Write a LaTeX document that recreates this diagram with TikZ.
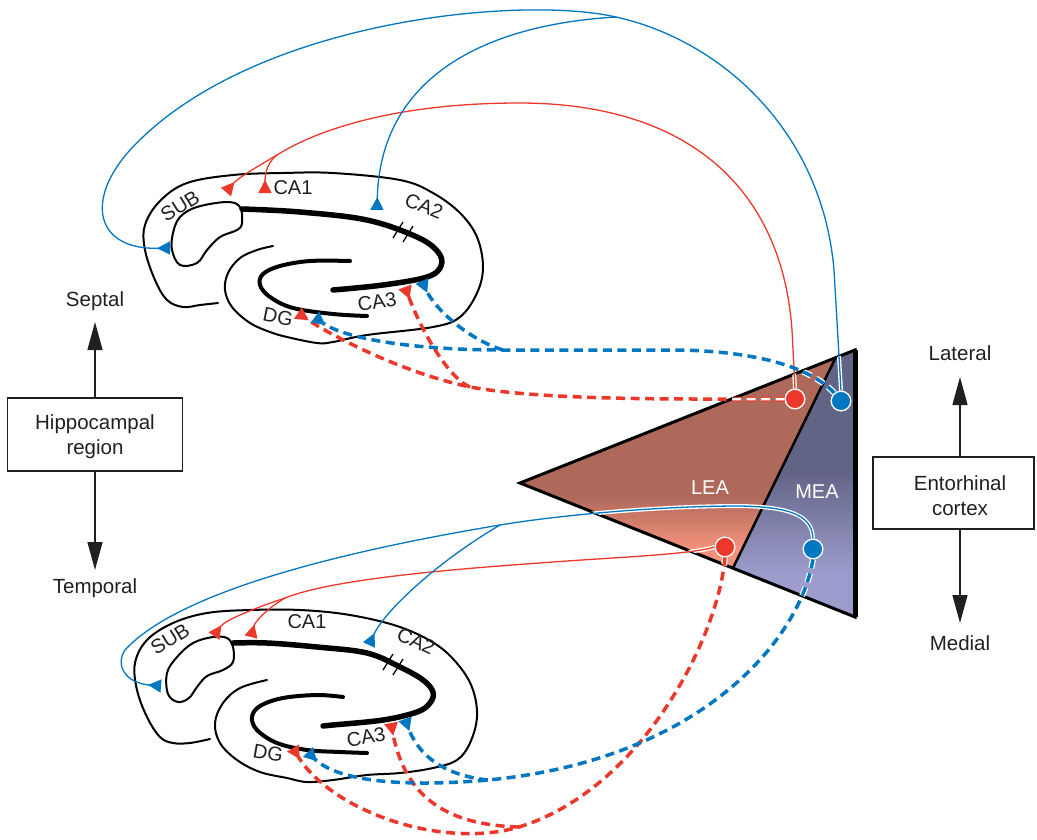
\documentclass[tikz,border=0pt]{standalone}
\usepackage{fontspec}
\setmainfont{Liberation Sans}
\usetikzlibrary{arrows.meta}

\definecolor{cred}{RGB}{236,56,42}
\definecolor{cblue}{RGB}{0,119,192}
\definecolor{leatop}{RGB}{175,105,91}
\definecolor{leabot}{RGB}{245,146,124}
\definecolor{meatop}{RGB}{98,100,134}
\definecolor{meabot}{RGB}{157,157,205}
\definecolor{ink}{RGB}{35,31,32}

% projection paths that are redrawn with a casing inside the cortex
\newcommand\RedTopDash[1]{\draw[#1] (RT.west) -- (rt1) .. controls (600,399) and (520,396) .. (mRT) .. controls (400,372) and (330,335) .. (rDGt);}
\newcommand\BlueTopDash[1]{\draw[#1] (BT.130) .. controls (815,372) and (770,352) .. (bt1) -- (mBT) .. controls (420,350) and (345,340) .. (bDGt);}
\newcommand\RedTopAxon[1]{\draw[#1] (RT.north) -- (rt2) .. controls (782,190) and (690,103) .. (rtop) .. controls (400,103) and (320,128) .. (brRT);}
\newcommand\BlueTopAxon[1]{\draw[#1] (BT.north) -- (bt2) .. controls (822,130) and (720,40) .. (bmerge);}
\newcommand\RedLowAxon[1]{\draw[#1] (RB.west) .. controls (690,555) and (600,558) .. (rl1) .. controls (440,570) and (330,580) .. (brRB);}
\newcommand\BlueLowAxon[1]{\draw[#1] (BB.north) .. controls (812,515) and (790,507) .. (bl1) .. controls (660,506) and (560,515) .. (bmergeL);}
\newcommand\RedLowDash[1]{\draw[#1] (RB.south) .. controls (718,640) and (640,790) .. (mRL) .. controls (440,850) and (330,810) .. (rDGl);}
\newcommand\BlueLowDash[1]{\draw[#1] (BB.south) .. controls (800,640) and (700,760) .. (mBL) .. controls (420,786) and (340,785) .. (bDGl);}

\tikzset{
  contour/.style={draw=black, line width=2pt, line cap=round, line join=round},
  cellline/.style={draw=black, line width=5.5pt, line cap=round},
  dgline/.style={draw=black, line width=4pt, line cap=round},
  tick/.style={draw=black, line width=1.3pt},
  axon/.style={line width=1.3pt},
  axondash/.style={line width=3.5pt, dash pattern=on 9pt off 5.5pt},
  term/.style={-{Triangle[reversed,length=13pt,width=13pt]}},
  soma/.style={circle, draw=white, line width=1.2pt, minimum size=19.5pt, inner sep=0pt},
  region/.style={font=\fontsize{20}{24}\selectfont, text=ink, inner sep=0pt},
  axislbl/.style={font=\fontsize{20.5}{25}\selectfont, text=ink, align=center, inner sep=0pt},
  boxnode/.style={draw=ink, line width=1.2pt, rectangle, inner sep=0pt},
  axisarrow/.style={draw=ink, line width=1.3pt, -{Triangle[length=28pt,width=15pt]}},
  ectext/.style={font=\fontsize{20}{24}\selectfont, text=white, inner sep=0pt}
}

\begin{document}
\begin{tikzpicture}[x=1pt,y=-1pt]
\useasboundingbox (0,0) rectangle (1037,839);

% ---------------- entorhinal cortex ----------------
\coordinate (Tip) at (520,483);
\coordinate (TR) at (855,350);
\coordinate (BR) at (855,617);
\coordinate (Dtop) at (836,357);
\coordinate (Dbot) at (733,568);

\begin{scope}
  \clip (Tip) -- (Dtop) -- (Dbot) -- cycle;
  \fill[leatop] (505,340) rectangle (860,497);
  \shade[top color=leatop, bottom color=leabot] (505,496) rectangle (860,548);
  \fill[leabot] (505,547) rectangle (860,625);
\end{scope}
\begin{scope}
  \clip (Dtop) -- (TR) -- (BR) -- (Dbot) -- cycle;
  \fill[meatop] (700,340) rectangle (860,472);
  \shade[top color=meatop, bottom color=meabot] (700,471) rectangle (860,575);
  \fill[meabot] (700,574) rectangle (860,625);
\end{scope}
\draw[line width=3pt, line join=miter] (Tip) -- (TR) -- (BR) -- cycle;
\draw[line width=5pt] (TR) -- (BR);
\draw[line width=2.5pt] (Dtop) -- (Dbot);

\node[ectext] (lea) at (710,488) {LEA};
\node[ectext] (mea) at (817,492) {MEA};

% ---------------- septal hippocampus ----------------
\draw[contour] plot[smooth, tension=0.6] coordinates {(273,246) (257,250) (240,258) (228,273) (225,290) (232,307) (250,323) (270,332) (287,337) (317,343) (333,342) (367,335) (433,327) (460,317) (477,293) (483,267) (477,237) (460,213) (433,193) (400,180) (333,173) (283,173) (233,175) (187,183) (160,201) (145,225) (145,250) (155,280) (167,300) (183,307) (200,305) (218,303)};
\draw[contour] plot[smooth cycle, tension=0.6] coordinates {(180,217) (197,207) (227,202) (240,207) (242,223) (237,230) (220,237) (207,250) (197,263) (180,265) (172,250) (173,233)};
\draw[cellline] plot[smooth, tension=0.6] coordinates {(242,209) (300,212) (367,220) (417,237) (438,252) (441,266) (427,277) (383,285) (333,290)};
\draw[dgline] plot[smooth, tension=0.6] coordinates {(350,261) (310,261) (280,266) (263,274) (260,285) (270,297) (293,308) (333,314) (367,316)};
\draw[tick] (393,238) -- (403,222);
\draw[tick] (403,242) -- (413,226);

\node[region, rotate=32] (subT) at (180,206) {SUB};
\node[region] (ca1T) at (293,188) {CA1};
\node[region, rotate=-22] (ca2T) at (424,206) {CA2};
\node[region, rotate=9] (ca3T) at (377,302) {CA3};
\node[region, rotate=-12] (dgT) at (278,317) {DG};

% ---------------- temporal hippocampus ----------------
\draw[contour] plot[smooth, tension=0.6] coordinates {(267,680) (240,688) (223,703) (215,723) (220,743) (237,760) (260,772) (287,778) (307,782) (333,780) (367,775) (400,773) (433,768) (457,760) (470,743) (477,717) (473,690) (460,667) (437,645) (400,627) (350,615) (300,610) (250,610) (207,613) (173,623) (147,640) (135,663) (137,690) (147,717) (160,737) (173,743) (190,743) (210,739)};
\draw[contour] plot[smooth cycle, tension=0.6] coordinates {(167,673) (177,657) (193,643) (213,637) (227,638) (233,647) (233,662) (223,670) (207,676) (197,687) (189,698) (178,702) (168,694)};
\draw[cellline] plot[smooth, tension=0.6] coordinates {(233,643) (267,643) (317,647) (367,653) (400,667) (423,680) (433,692) (430,703) (417,712) (383,720) (333,725) (323,726)};
\draw[dgline] plot[smooth, tension=0.6] coordinates {(343,697) (317,695) (283,698) (260,706) (252,717) (257,730) (277,743) (307,750) (340,752) (367,753)};
\draw[tick] (383,670) -- (393,654);
\draw[tick] (393,675) -- (403,659);

\node[region, rotate=32] (subL) at (170,639) {SUB};
\node[region] (ca1L) at (307,622) {CA1};
\node[region, rotate=-25] (ca2L) at (416,641) {CA2};
\node[region, rotate=10] (ca3L) at (366,737) {CA3};
\node[region, rotate=-10] (dgL) at (268,753) {DG};

% ---------------- cell bodies and path points ----------------
\node[soma, fill=cred] (RT) at (795,399) {};
\node[soma, fill=cblue] (BT) at (841,401) {};
\node[soma, fill=cred] (RB) at (725,547) {};
\node[soma, fill=cblue] (BB) at (813,549) {};

\coordinate (rt1) at (700,399);
\coordinate (mRT) at (470,387);
\coordinate (rDGt) at (298,313);
\coordinate (rCA3t) at (405,287);
\coordinate (bt1) at (680,350);
\coordinate (mBT) at (503,350);
\coordinate (bDGt) at (315,317);
\coordinate (bCA3t) at (422,281);
\coordinate (rt2) at (792,330);
\coordinate (rtop) at (519,103);
\coordinate (brRT) at (277,155);
\coordinate (rSUBt) at (226,192);
\coordinate (rCA1t) at (265,193);
\coordinate (bt2) at (834,270);
\coordinate (bmerge) at (616,17);
\coordinate (bo1) at (130,150);
\coordinate (bSUBt) at (170,248);
\coordinate (bCA2t) at (377,210);

\coordinate (rl1) at (540,563);
\coordinate (brRB) at (285,598);
\coordinate (rSUBl) at (214,636);
\coordinate (rCA1l) at (251,637);
\coordinate (bl1) at (740,506);
\coordinate (bmergeL) at (500,525);
\coordinate (bo2) at (125,650);
\coordinate (bSUBl) at (161,686);
\coordinate (bCA2l) at (369,645);
\coordinate (mRL) at (519,827);
\coordinate (rDGl) at (293,748);
\coordinate (rCA3l) at (391,723);
\coordinate (mBL) at (488,780);
\coordinate (bDGl) at (308,752);
\coordinate (bCA3l) at (405,719);

% ---------------- projections to the septal end ----------------
\RedTopAxon{axon, draw=cred}
\draw[axon, draw=cred, term] (brRT) .. controls (255,168) and (238,178) .. (rSUBt);
\draw[axon, draw=cred, term] (brRT) .. controls (268,162) and (265,172) .. (rCA1t);
\BlueTopAxon{axon, draw=cblue}
\draw[axon, draw=cblue, term] (bmerge) .. controls (520,-5) and (250,20) .. (bo1) .. controls (85,200) and (95,250) .. (bSUBt);
\draw[axon, draw=cblue, term] (bmerge) .. controls (480,25) and (380,80) .. (bCA2t);

\RedTopDash{axondash, draw=cred, term}
\draw[axondash, draw=cred, term] (mRT) .. controls (452,380) and (425,340) .. (rCA3t);
\BlueTopDash{axondash, draw=cblue, term}
\draw[axondash, draw=cblue, term] (mBT) .. controls (470,340) and (435,310) .. (bCA3t);

% ---------------- projections to the temporal end ----------------
\RedLowAxon{axon, draw=cred}
\draw[axon, draw=cred, term] (brRB) .. controls (255,608) and (225,620) .. (rSUBl);
\draw[axon, draw=cred, term] (brRB) .. controls (265,610) and (255,622) .. (rCA1l);
\BlueLowAxon{axon, draw=cblue}
\draw[axon, draw=cblue, term] (bmergeL) .. controls (350,550) and (180,590) .. (bo2) .. controls (115,665) and (125,683) .. (bSUBl);
\draw[axon, draw=cblue, term] (bmergeL) .. controls (440,560) and (385,610) .. (bCA2l);

\RedLowDash{axondash, draw=cred, term}
\draw[axondash, draw=cred, term] (mRL) .. controls (450,825) and (405,800) .. (rCA3l);
\BlueLowDash{axondash, draw=cblue, term}
\draw[axondash, draw=cblue, term] (mBL) .. controls (450,776) and (420,760) .. (bCA3l);

% ---------------- cased segments over the cortex ----------------
\begin{scope}
  \clip (Tip) -- (TR) -- (BR) -- cycle;
  \RedTopAxon{draw=white, line width=4pt}
  \RedTopAxon{axon, draw=cred}
  \BlueTopAxon{draw=white, line width=4pt}
  \BlueTopAxon{axon, draw=cblue}
  \RedLowAxon{draw=white, line width=4pt}
  \RedLowAxon{axon, draw=cred}
  \BlueLowAxon{draw=white, line width=4pt}
  \BlueLowAxon{axon, draw=cblue}
  \RedTopDash{axondash, draw=cred, line width=5pt}
  \RedTopDash{axondash, draw=white, line width=2.5pt}
  \BlueTopDash{axondash, draw=white, line width=6pt}
  \BlueTopDash{axondash, draw=cblue}
  \RedLowDash{axondash, draw=white, line width=6pt}
  \RedLowDash{axondash, draw=cred}
  \BlueLowDash{axondash, draw=white, line width=6pt}
  \BlueLowDash{axondash, draw=cblue}
\end{scope}

\node[soma, fill=cred] at (RT) {};
\node[soma, fill=cblue] at (BT) {};
\node[soma, fill=cred] at (RB) {};
\node[soma, fill=cblue] at (BB) {};

% ---------------- axes ----------------
\node[boxnode, minimum width=175pt, minimum height=73pt] (hbox) at (95,434.5) {};
\node[axislbl] (htext) at (95,437) {Hippocampal\\region};
\node[axislbl] (septal) at (95,301) {Septal};
\node[axislbl] (temporal) at (95,588) {Temporal};
\coordinate (septip) at (95,322);
\coordinate (temptip) at (95,570);
\draw[axisarrow] (hbox.north) -- (septip);
\draw[axisarrow] (hbox.south) -- (temptip);

\node[boxnode, minimum width=161pt, minimum height=72pt] (ecbox) at (953.5,493) {};
\node[axislbl] (ectxt) at (960,496) {Entorhinal\\cortex};
\node[axislbl] (lateral) at (960,353) {Lateral};
\node[axislbl] (medial) at (960,643) {Medial};
\coordinate (lattip) at (960,377);
\coordinate (medtip) at (960,623);
\draw[axisarrow] (ectxt |- ecbox.north) -- (lattip);
\draw[axisarrow] (ectxt |- ecbox.south) -- (medtip);
\end{tikzpicture}
\end{document}
